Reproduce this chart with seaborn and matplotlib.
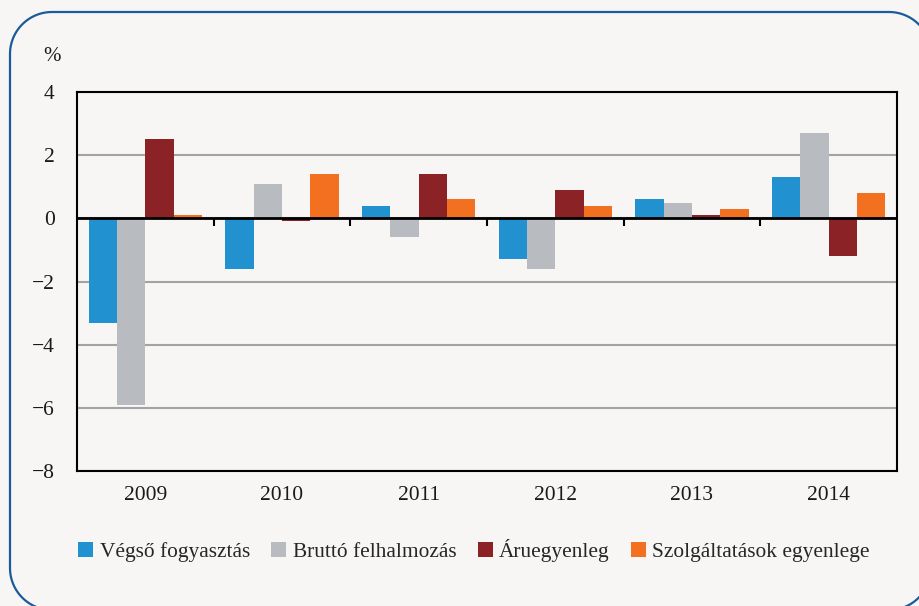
import numpy as np
import pandas as pd
import matplotlib.pyplot as plt
import seaborn as sns

# Data (%)
years = ['2009', '2010', '2011', '2012', '2013', '2014']
vegso = [-3.3, -1.6, 0.4, -1.3, 0.6, 1.3]
brutto = [-5.9, 1.1, -0.6, -1.6, 0.5, 2.7]
aru = [2.5, -0.1, 1.4, 0.9, 0.1, -1.2]
szolg = [0.1, 1.4, 0.6, 0.4, 0.3, 0.8]

series_names = ['Végső fogyasztás', 'Bruttó felhalmozás', 'Áruegyenleg', 'Szolgáltatások egyenlege']
colors = ['#2291d0', '#b8bcc0', '#8b2326', '#f37021']

rows = []
for name, vals in zip(series_names, [vegso, brutto, aru, szolg]):
    for y, v in zip(years, vals):
        rows.append((y, name, v))
df = pd.DataFrame(rows, columns=['Év', 'Sor', 'Érték'])

sns.set_theme(style="white")
plt.rcParams['font.family'] = ['Liberation Serif', 'DejaVu Serif']
bg = '#f7f6f4'

fig = plt.figure(figsize=(9.2, 6.06), dpi=100, facecolor=bg)

# rounded frame around the whole chart, in pixel units (y downward)
frame = fig.add_axes([0, 0, 1, 1], zorder=-1)
frame.set_xlim(0, 920)
frame.set_ylim(606, 0)
frame.axis('off')


def rounded_rect(x0, y0, x1, y1, r, n=30):
    pts = []
    corners = [(x1 - r, y0 + r, -90, 0), (x1 - r, y1 - r, 0, 90),
               (x0 + r, y1 - r, 90, 180), (x0 + r, y0 + r, 180, 270)]
    for cx, cy, a0, a1 in corners:
        t = np.radians(np.linspace(a0, a1, n))
        pts.append(np.column_stack([cx + r * np.cos(t), cy + r * np.sin(t)]))
    pts = np.vstack(pts + [pts[0][:1]])
    return pts[:, 0], pts[:, 1]


fx, fy = rounded_rect(10, 12, 931, 610, 42)
frame.plot(fx, fy, color='#1a5b9c', linewidth=1.6, clip_on=False)

ax = fig.add_axes([77 / 920, 1 - 471 / 606, 820 / 920, 379 / 606])
ax.set_facecolor(bg)
sns.barplot(data=df, x='Év', y='Érték', hue='Sor', palette=colors,
            width=0.83, gap=0, saturation=1, edgecolor='none', ax=ax,
            legend=True, errorbar=None, zorder=3)

ax.set_ylim(-8, 4)
ax.set_yticks([-8, -6, -4, -2, 0, 2, 4])
ax.set_xlim(-0.5, 5.5)
ax.grid(axis='y', color='#a3a3a6', linewidth=1.5, zorder=0)
ax.axhline(0, color='black', linewidth=2, zorder=4)
for s in ax.spines.values():
    s.set_color('black')
    s.set_linewidth(1.5)
    s.set_visible(True)
ax.set_xlabel('')
ax.set_ylabel('')
ax.tick_params(axis='x', length=0, pad=11, labelsize=15.5, colors='#1a1a1a')
ax.tick_params(axis='y', length=0, pad=16, labelsize=15.5, colors='#1a1a1a')

# tick marks on the zero line between the year groups
sec = ax.secondary_xaxis(2 / 3)
sec.set_xticks([0.5, 1.5, 2.5, 3.5, 4.5])
sec.set_xticklabels([])
sec.tick_params(direction='in', length=6, width=1.5, color='black')
sec.spines['bottom'].set_visible(False)
sec.spines['top'].set_visible(False)

ax.text(-0.031, 1.068, '%', transform=ax.transAxes, fontsize=15, color='#1a1a1a',
        ha='center', va='bottom')

handles, labels = ax.get_legend_handles_labels()
ax.legend(handles, labels, loc='upper left', bbox_to_anchor=(-0.009, -0.157),
          ncol=4, frameon=False, fontsize=15.4, handlelength=0.7, handleheight=0.7,
          handletextpad=0.3, columnspacing=1.0, borderaxespad=0)

fig.savefig('out.png', dpi=100, facecolor=bg)
